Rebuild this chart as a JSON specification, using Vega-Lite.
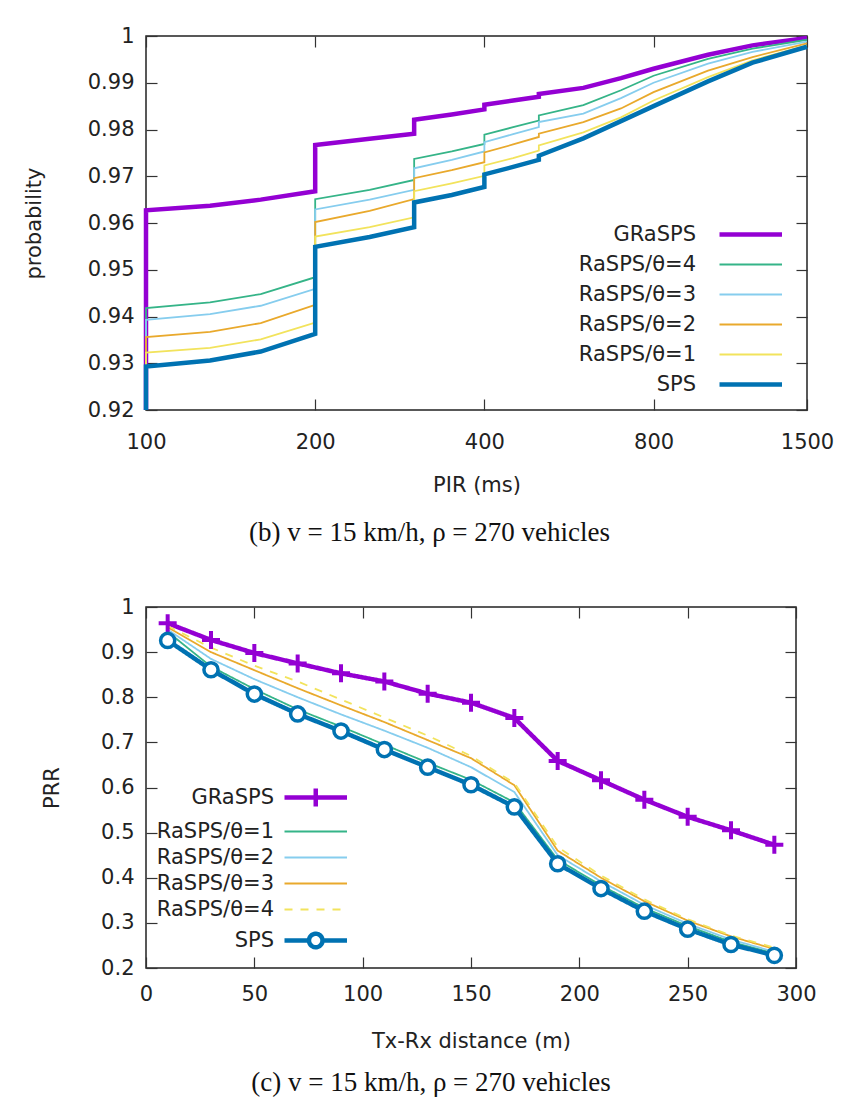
{
  "$schema": "https://vega.github.io/schema/vega-lite/v6.json",
  "padding": {"left": 22, "top": 24, "right": 10, "bottom": 10},
  "background": "white",
  "datasets": {
    "cdf": [
      {"s":"GRaSPS","x":100,"y":0.92,"k":0},{"s":"GRaSPS","x":100,"y":0.9627,"k":1},{"s":"GRaSPS","x":130,"y":0.9637,"k":2},{"s":"GRaSPS","x":160,"y":0.965,"k":3},{"s":"GRaSPS","x":200,"y":0.9668,"k":4},{"s":"GRaSPS","x":200,"y":0.9767,"k":5},{"s":"GRaSPS","x":250,"y":0.978,"k":6},{"s":"GRaSPS","x":300,"y":0.9791,"k":7},{"s":"GRaSPS","x":300,"y":0.9821,"k":8},{"s":"GRaSPS","x":350,"y":0.9832,"k":9},{"s":"GRaSPS","x":400,"y":0.9843,"k":10},{"s":"GRaSPS","x":400,"y":0.9853,"k":11},{"s":"GRaSPS","x":450,"y":0.9862,"k":12},{"s":"GRaSPS","x":500,"y":0.987,"k":13},{"s":"GRaSPS","x":500,"y":0.9876,"k":14},{"s":"GRaSPS","x":600,"y":0.9889,"k":15},{"s":"GRaSPS","x":700,"y":0.991,"k":16},{"s":"GRaSPS","x":800,"y":0.993,"k":17},{"s":"GRaSPS","x":1000,"y":0.996,"k":18},{"s":"GRaSPS","x":1200,"y":0.998,"k":19},{"s":"GRaSPS","x":1500,"y":0.9996,"k":20},
      {"s":"RaSPS/θ=4","x":100,"y":0.92,"k":0},{"s":"RaSPS/θ=4","x":100,"y":0.9418,"k":1},{"s":"RaSPS/θ=4","x":130,"y":0.943,"k":2},{"s":"RaSPS/θ=4","x":160,"y":0.9448,"k":3},{"s":"RaSPS/θ=4","x":200,"y":0.9484,"k":4},{"s":"RaSPS/θ=4","x":200,"y":0.9651,"k":5},{"s":"RaSPS/θ=4","x":250,"y":0.9671,"k":6},{"s":"RaSPS/θ=4","x":300,"y":0.9692,"k":7},{"s":"RaSPS/θ=4","x":300,"y":0.9737,"k":8},{"s":"RaSPS/θ=4","x":350,"y":0.9753,"k":9},{"s":"RaSPS/θ=4","x":400,"y":0.9769,"k":10},{"s":"RaSPS/θ=4","x":400,"y":0.9789,"k":11},{"s":"RaSPS/θ=4","x":450,"y":0.9805,"k":12},{"s":"RaSPS/θ=4","x":500,"y":0.9819,"k":13},{"s":"RaSPS/θ=4","x":500,"y":0.983,"k":14},{"s":"RaSPS/θ=4","x":600,"y":0.9852,"k":15},{"s":"RaSPS/θ=4","x":700,"y":0.9884,"k":16},{"s":"RaSPS/θ=4","x":800,"y":0.9915,"k":17},{"s":"RaSPS/θ=4","x":1000,"y":0.9951,"k":18},{"s":"RaSPS/θ=4","x":1200,"y":0.9973,"k":19},{"s":"RaSPS/θ=4","x":1500,"y":0.9992,"k":20},
      {"s":"RaSPS/θ=3","x":100,"y":0.92,"k":0},{"s":"RaSPS/θ=3","x":100,"y":0.9393,"k":1},{"s":"RaSPS/θ=3","x":130,"y":0.9405,"k":2},{"s":"RaSPS/θ=3","x":160,"y":0.9423,"k":3},{"s":"RaSPS/θ=3","x":200,"y":0.9459,"k":4},{"s":"RaSPS/θ=3","x":200,"y":0.9629,"k":5},{"s":"RaSPS/θ=3","x":250,"y":0.965,"k":6},{"s":"RaSPS/θ=3","x":300,"y":0.9671,"k":7},{"s":"RaSPS/θ=3","x":300,"y":0.9717,"k":8},{"s":"RaSPS/θ=3","x":350,"y":0.9735,"k":9},{"s":"RaSPS/θ=3","x":400,"y":0.9753,"k":10},{"s":"RaSPS/θ=3","x":400,"y":0.9773,"k":11},{"s":"RaSPS/θ=3","x":450,"y":0.979,"k":12},{"s":"RaSPS/θ=3","x":500,"y":0.9805,"k":13},{"s":"RaSPS/θ=3","x":500,"y":0.9816,"k":14},{"s":"RaSPS/θ=3","x":600,"y":0.9834,"k":15},{"s":"RaSPS/θ=3","x":700,"y":0.9867,"k":16},{"s":"RaSPS/θ=3","x":800,"y":0.99,"k":17},{"s":"RaSPS/θ=3","x":1000,"y":0.9941,"k":18},{"s":"RaSPS/θ=3","x":1200,"y":0.9966,"k":19},{"s":"RaSPS/θ=3","x":1500,"y":0.9988,"k":20},
      {"s":"RaSPS/θ=2","x":100,"y":0.92,"k":0},{"s":"RaSPS/θ=2","x":100,"y":0.9356,"k":1},{"s":"RaSPS/θ=2","x":130,"y":0.9367,"k":2},{"s":"RaSPS/θ=2","x":160,"y":0.9386,"k":3},{"s":"RaSPS/θ=2","x":200,"y":0.9425,"k":4},{"s":"RaSPS/θ=2","x":200,"y":0.9602,"k":5},{"s":"RaSPS/θ=2","x":250,"y":0.9626,"k":6},{"s":"RaSPS/θ=2","x":300,"y":0.9651,"k":7},{"s":"RaSPS/θ=2","x":300,"y":0.9696,"k":8},{"s":"RaSPS/θ=2","x":350,"y":0.9713,"k":9},{"s":"RaSPS/θ=2","x":400,"y":0.973,"k":10},{"s":"RaSPS/θ=2","x":400,"y":0.9751,"k":11},{"s":"RaSPS/θ=2","x":450,"y":0.9768,"k":12},{"s":"RaSPS/θ=2","x":500,"y":0.9784,"k":13},{"s":"RaSPS/θ=2","x":500,"y":0.9791,"k":14},{"s":"RaSPS/θ=2","x":600,"y":0.9816,"k":15},{"s":"RaSPS/θ=2","x":700,"y":0.9845,"k":16},{"s":"RaSPS/θ=2","x":800,"y":0.988,"k":17},{"s":"RaSPS/θ=2","x":1000,"y":0.9926,"k":18},{"s":"RaSPS/θ=2","x":1200,"y":0.9955,"k":19},{"s":"RaSPS/θ=2","x":1500,"y":0.9984,"k":20},
      {"s":"RaSPS/θ=1","x":100,"y":0.92,"k":0},{"s":"RaSPS/θ=1","x":100,"y":0.9323,"k":1},{"s":"RaSPS/θ=1","x":130,"y":0.9333,"k":2},{"s":"RaSPS/θ=1","x":160,"y":0.9351,"k":3},{"s":"RaSPS/θ=1","x":200,"y":0.9387,"k":4},{"s":"RaSPS/θ=1","x":200,"y":0.9571,"k":5},{"s":"RaSPS/θ=1","x":250,"y":0.9591,"k":6},{"s":"RaSPS/θ=1","x":300,"y":0.9612,"k":7},{"s":"RaSPS/θ=1","x":300,"y":0.9668,"k":8},{"s":"RaSPS/θ=1","x":350,"y":0.9685,"k":9},{"s":"RaSPS/θ=1","x":400,"y":0.9701,"k":10},{"s":"RaSPS/θ=1","x":400,"y":0.9723,"k":11},{"s":"RaSPS/θ=1","x":450,"y":0.9739,"k":12},{"s":"RaSPS/θ=1","x":500,"y":0.9755,"k":13},{"s":"RaSPS/θ=1","x":500,"y":0.9766,"k":14},{"s":"RaSPS/θ=1","x":600,"y":0.9794,"k":15},{"s":"RaSPS/θ=1","x":700,"y":0.9826,"k":16},{"s":"RaSPS/θ=1","x":800,"y":0.9862,"k":17},{"s":"RaSPS/θ=1","x":1000,"y":0.9912,"k":18},{"s":"RaSPS/θ=1","x":1200,"y":0.9948,"k":19},{"s":"RaSPS/θ=1","x":1500,"y":0.998,"k":20},
      {"s":"SPS","x":100,"y":0.92,"k":0},{"s":"SPS","x":100,"y":0.9293,"k":1},{"s":"SPS","x":130,"y":0.9306,"k":2},{"s":"SPS","x":160,"y":0.9325,"k":3},{"s":"SPS","x":200,"y":0.9363,"k":4},{"s":"SPS","x":200,"y":0.9549,"k":5},{"s":"SPS","x":250,"y":0.957,"k":6},{"s":"SPS","x":300,"y":0.9591,"k":7},{"s":"SPS","x":300,"y":0.9644,"k":8},{"s":"SPS","x":350,"y":0.966,"k":9},{"s":"SPS","x":400,"y":0.9677,"k":10},{"s":"SPS","x":400,"y":0.9704,"k":11},{"s":"SPS","x":450,"y":0.972,"k":12},{"s":"SPS","x":500,"y":0.9735,"k":13},{"s":"SPS","x":500,"y":0.9744,"k":14},{"s":"SPS","x":600,"y":0.9781,"k":15},{"s":"SPS","x":700,"y":0.9818,"k":16},{"s":"SPS","x":800,"y":0.985,"k":17},{"s":"SPS","x":1000,"y":0.9903,"k":18},{"s":"SPS","x":1200,"y":0.9943,"k":19},{"s":"SPS","x":1500,"y":0.9977,"k":20}
    ],
    "prr": [
      {"s":"GRaSPS","d":10,"v":0.964},{"s":"GRaSPS","d":30,"v":0.927},{"s":"GRaSPS","d":50,"v":0.898},{"s":"GRaSPS","d":70,"v":0.875},{"s":"GRaSPS","d":90,"v":0.853},{"s":"GRaSPS","d":110,"v":0.835},{"s":"GRaSPS","d":130,"v":0.808},{"s":"GRaSPS","d":150,"v":0.788},{"s":"GRaSPS","d":170,"v":0.754},{"s":"GRaSPS","d":190,"v":0.659},{"s":"GRaSPS","d":210,"v":0.616},{"s":"GRaSPS","d":230,"v":0.573},{"s":"GRaSPS","d":250,"v":0.535},{"s":"GRaSPS","d":270,"v":0.505},{"s":"GRaSPS","d":290,"v":0.473},
      {"s":"RaSPS/θ=1","d":10,"v":0.945},{"s":"RaSPS/θ=1","d":30,"v":0.868},{"s":"RaSPS/θ=1","d":50,"v":0.818},{"s":"RaSPS/θ=1","d":70,"v":0.773},{"s":"RaSPS/θ=1","d":90,"v":0.735},{"s":"RaSPS/θ=1","d":110,"v":0.695},{"s":"RaSPS/θ=1","d":130,"v":0.655},{"s":"RaSPS/θ=1","d":150,"v":0.617},{"s":"RaSPS/θ=1","d":170,"v":0.567},{"s":"RaSPS/θ=1","d":190,"v":0.44},{"s":"RaSPS/θ=1","d":210,"v":0.383},{"s":"RaSPS/θ=1","d":230,"v":0.333},{"s":"RaSPS/θ=1","d":250,"v":0.293},{"s":"RaSPS/θ=1","d":270,"v":0.258},{"s":"RaSPS/θ=1","d":290,"v":0.233},
      {"s":"RaSPS/θ=2","d":10,"v":0.95},{"s":"RaSPS/θ=2","d":30,"v":0.885},{"s":"RaSPS/θ=2","d":50,"v":0.84},{"s":"RaSPS/θ=2","d":70,"v":0.8},{"s":"RaSPS/θ=2","d":90,"v":0.762},{"s":"RaSPS/θ=2","d":110,"v":0.726},{"s":"RaSPS/θ=2","d":130,"v":0.688},{"s":"RaSPS/θ=2","d":150,"v":0.645},{"s":"RaSPS/θ=2","d":170,"v":0.59},{"s":"RaSPS/θ=2","d":190,"v":0.45},{"s":"RaSPS/θ=2","d":210,"v":0.392},{"s":"RaSPS/θ=2","d":230,"v":0.34},{"s":"RaSPS/θ=2","d":250,"v":0.298},{"s":"RaSPS/θ=2","d":270,"v":0.263},{"s":"RaSPS/θ=2","d":290,"v":0.236},
      {"s":"RaSPS/θ=3","d":10,"v":0.955},{"s":"RaSPS/θ=3","d":30,"v":0.9},{"s":"RaSPS/θ=3","d":50,"v":0.86},{"s":"RaSPS/θ=3","d":70,"v":0.82},{"s":"RaSPS/θ=3","d":90,"v":0.782},{"s":"RaSPS/θ=3","d":110,"v":0.745},{"s":"RaSPS/θ=3","d":130,"v":0.705},{"s":"RaSPS/θ=3","d":150,"v":0.665},{"s":"RaSPS/θ=3","d":170,"v":0.605},{"s":"RaSPS/θ=3","d":190,"v":0.46},{"s":"RaSPS/θ=3","d":210,"v":0.4},{"s":"RaSPS/θ=3","d":230,"v":0.348},{"s":"RaSPS/θ=3","d":250,"v":0.305},{"s":"RaSPS/θ=3","d":270,"v":0.27},{"s":"RaSPS/θ=3","d":290,"v":0.242},
      {"s":"RaSPS/θ=4","d":10,"v":0.958},{"s":"RaSPS/θ=4","d":30,"v":0.91},{"s":"RaSPS/θ=4","d":50,"v":0.87},{"s":"RaSPS/θ=4","d":70,"v":0.835},{"s":"RaSPS/θ=4","d":90,"v":0.795},{"s":"RaSPS/θ=4","d":110,"v":0.755},{"s":"RaSPS/θ=4","d":130,"v":0.715},{"s":"RaSPS/θ=4","d":150,"v":0.67},{"s":"RaSPS/θ=4","d":170,"v":0.61},{"s":"RaSPS/θ=4","d":190,"v":0.468},{"s":"RaSPS/θ=4","d":210,"v":0.405},{"s":"RaSPS/θ=4","d":230,"v":0.352},{"s":"RaSPS/θ=4","d":250,"v":0.308},{"s":"RaSPS/θ=4","d":270,"v":0.272},{"s":"RaSPS/θ=4","d":290,"v":0.245},
      {"s":"SPS","d":10,"v":0.926},{"s":"SPS","d":30,"v":0.861},{"s":"SPS","d":50,"v":0.807},{"s":"SPS","d":70,"v":0.763},{"s":"SPS","d":90,"v":0.725},{"s":"SPS","d":110,"v":0.684},{"s":"SPS","d":130,"v":0.645},{"s":"SPS","d":150,"v":0.606},{"s":"SPS","d":170,"v":0.557},{"s":"SPS","d":190,"v":0.431},{"s":"SPS","d":210,"v":0.376},{"s":"SPS","d":230,"v":0.326},{"s":"SPS","d":250,"v":0.286},{"s":"SPS","d":270,"v":0.252},{"s":"SPS","d":290,"v":0.228}
    ]
  },
  "spacing": 48,
  "resolve": {
    "scale": {"x": "independent", "y": "independent", "color": "independent", "strokeWidth": "independent", "strokeDash": "independent", "shape": "independent"},
    "legend": {"color": "independent", "strokeWidth": "independent", "strokeDash": "independent", "shape": "independent"}
  },
  "vconcat": [
    {
      "width": 661,
      "height": 374,
      "data": {"name": "cdf"},
      "title": {"text": "(b)  v = 15 km/h, ρ = 270 vehicles", "orient": "bottom", "anchor": "middle", "font": "Liberation Serif", "fontSize": 27, "fontWeight": "normal", "color": "#111", "dx": -47, "offset": 25},
      "resolve": {"axis": {"x": "independent", "y": "independent"}},
      "layer": [
        {
          "mark": {"type": "line", "strokeCap": "butt"},
          "encoding": {
            "x": {"field": "x", "type": "quantitative", "scale": {"type": "log", "domain": [100, 1500], "nice": false}, "axis": {"orient": "bottom", "title": "PIR (ms)", "values": [100, 200, 400, 800, 1500], "format": "d", "labelPadding": 32, "titlePadding": 22}},
            "y": {"field": "y", "type": "quantitative", "scale": {"domain": [0.92, 1], "nice": false, "zero": false}, "axis": {"orient": "left", "title": "probability", "values": [0.92, 0.93, 0.94, 0.95, 0.96, 0.97, 0.98, 0.99, 1], "format": ".2~f", "labelPadding": 23, "titlePadding": 43}},
            "order": {"field": "k", "type": "quantitative"},
            "color": {"field": "s", "type": "nominal", "scale": {"domain": ["GRaSPS", "RaSPS/θ=4", "RaSPS/θ=3", "RaSPS/θ=2", "RaSPS/θ=1", "SPS"], "range": ["#9400d3", "#35b488", "#86cdee", "#e9a92c", "#f2e35c", "#0072b2"]},
              "legend": {"orient": "none", "legendX": 563, "legendY": 188, "title": null, "labelAlign": "right", "labelOffset": -34, "rowPadding": 8, "symbolType": "M0,0H12.5", "symbolSize": 100, "labelFontSize": 21, "labelLimit": 0, "padding": 0}},
            "strokeWidth": {"field": "s", "type": "nominal", "scale": {"type": "ordinal", "domain": ["GRaSPS", "RaSPS/θ=4", "RaSPS/θ=3", "RaSPS/θ=2", "RaSPS/θ=1", "SPS"], "range": [4.5, 1.8, 1.8, 1.8, 1.8, 4.5]},
              "legend": {"orient": "none", "legendX": 563, "legendY": 188, "title": null, "labelAlign": "right", "labelOffset": -34, "rowPadding": 8, "symbolType": "M0,0H12.5", "symbolSize": 100, "labelFontSize": 21, "labelLimit": 0, "padding": 0}}
          }
        },
        {
          "mark": {"type": "point", "opacity": 0},
          "encoding": {
            "x": {"field": "x", "type": "quantitative", "axis": {"orient": "top", "labels": false, "title": null, "values": [100, 200, 400, 800, 1500]}},
            "y": {"field": "y", "type": "quantitative", "axis": {"orient": "right", "labels": false, "title": null, "values": [0.92, 0.93, 0.94, 0.95, 0.96, 0.97, 0.98, 0.99, 1]}}
          }
        }
      ]
    },
    {
      "width": 650,
      "height": 361,
      "data": {"name": "prr"},
      "title": {"text": "(c)  v = 15 km/h, ρ = 270 vehicles", "orient": "bottom", "anchor": "middle", "font": "Liberation Serif", "fontSize": 27, "fontWeight": "normal", "color": "#111", "dx": -40, "offset": 19},
      "resolve": {
        "axis": {"x": "independent", "y": "independent"},
        "scale": {"color": "independent", "strokeWidth": "independent", "strokeDash": "independent", "shape": "independent"}
      },
      "layer": [
        {
          "mark": {"type": "line", "strokeCap": "butt"},
          "encoding": {
            "x": {"field": "d", "type": "quantitative", "scale": {"domain": [0, 300], "nice": false}, "axis": {"orient": "bottom", "title": "Tx-Rx distance (m)", "values": [0, 50, 100, 150, 200, 250, 300], "format": "d", "labelPadding": 26, "titlePadding": 26}},
            "y": {"field": "v", "type": "quantitative", "scale": {"domain": [0.2, 1], "nice": false, "zero": false}, "axis": {"orient": "left", "title": "PRR", "values": [0.2, 0.3, 0.4, 0.5, 0.6, 0.7, 0.8, 0.9, 1], "format": ".1~f", "labelPadding": 23, "titlePadding": 38}},
            "color": {"field": "s", "type": "nominal", "scale": {"domain": ["GRaSPS", "RaSPS/θ=1", "RaSPS/θ=2", "RaSPS/θ=3", "RaSPS/θ=4", "SPS"], "range": ["#9400d3", "#35b488", "#86cdee", "#e9a92c", "#f2e35c", "#0072b2"]}, "legend": null},
            "strokeWidth": {"field": "s", "type": "nominal", "scale": {"type": "ordinal", "domain": ["GRaSPS", "RaSPS/θ=1", "RaSPS/θ=2", "RaSPS/θ=3", "RaSPS/θ=4", "SPS"], "range": [4.5, 1.8, 1.8, 1.8, 1.8, 4.5]}, "legend": null},
            "strokeDash": {"field": "s", "type": "nominal", "scale": {"type": "ordinal", "domain": ["GRaSPS", "RaSPS/θ=1", "RaSPS/θ=2", "RaSPS/θ=3", "RaSPS/θ=4", "SPS"], "range": [[1, 0], [1, 0], [1, 0], [1, 0], [8, 8], [1, 0]]}, "legend": null}
          }
        },
        {
          "transform": [{"filter": "datum.s === 'GRaSPS'"}],
          "mark": {"type": "point", "shape": "M-1,0H1M0,-1V1", "size": 324, "filled": false, "color": "#9400d3", "strokeWidth": 4, "opacity": 1},
          "encoding": {
            "x": {"field": "d", "type": "quantitative", "axis": null},
            "y": {"field": "v", "type": "quantitative", "axis": null}
          }
        },
        {
          "transform": [{"filter": "datum.s === 'SPS'"}],
          "mark": {"type": "point", "shape": "circle", "size": 200, "filled": false, "color": "#0072b2", "fill": "white", "fillOpacity": 1, "strokeWidth": 3.5, "opacity": 1},
          "encoding": {
            "x": {"field": "d", "type": "quantitative", "axis": null},
            "y": {"field": "v", "type": "quantitative", "axis": null}
          }
        },
        {
          "transform": [{"filter": "false"}],
          "mark": {"type": "point", "filled": false, "opacity": 1},
          "encoding": {
            "x": {"field": "d", "type": "quantitative", "axis": null},
            "y": {"field": "v", "type": "quantitative", "axis": null},
            "color": {"field": "s", "type": "nominal", "scale": {"domain": ["GRaSPS", "RaSPS/θ=1", "RaSPS/θ=2", "RaSPS/θ=3", "RaSPS/θ=4", "SPS"], "range": ["#9400d3", "#35b488", "#86cdee", "#e9a92c", "#f2e35c", "#0072b2"]},
              "legend": {"orient": "none", "legendX": 128, "legendY": 180, "title": null, "labelAlign": "right", "labelOffset": -21, "rowPadding": 4, "symbolSize": 100, "symbolOpacity": 1, "labelFontSize": 21, "labelLimit": 0, "padding": 0}},
            "shape": {"field": "s", "type": "nominal", "scale": {"domain": ["GRaSPS", "RaSPS/θ=1", "RaSPS/θ=2", "RaSPS/θ=3", "RaSPS/θ=4", "SPS"], "range": ["M0,0H12.5M6.25,-1.8V1.8", "M0,0H12.5", "M0,0H12.5", "M0,0H12.5", "M0,0H12.5", "M0,0H4.9M7.6,0H12.5M7.6,0A1.35,1.35,0,1,1,4.9,0A1.35,1.35,0,1,1,7.6,0"]},
              "legend": {"orient": "none", "legendX": 128, "legendY": 180, "title": null, "labelAlign": "right", "labelOffset": -21, "rowPadding": 4, "symbolSize": 100, "symbolOpacity": 1, "labelFontSize": 21, "labelLimit": 0, "padding": 0}},
            "strokeWidth": {"field": "s", "type": "nominal", "scale": {"type": "ordinal", "domain": ["GRaSPS", "RaSPS/θ=1", "RaSPS/θ=2", "RaSPS/θ=3", "RaSPS/θ=4", "SPS"], "range": [4.5, 1.8, 1.8, 1.8, 1.8, 4.5]},
              "legend": {"orient": "none", "legendX": 128, "legendY": 180, "title": null, "labelAlign": "right", "labelOffset": -21, "rowPadding": 4, "symbolSize": 100, "symbolOpacity": 1, "labelFontSize": 21, "labelLimit": 0, "padding": 0}},
            "strokeDash": {"field": "s", "type": "nominal", "scale": {"type": "ordinal", "domain": ["GRaSPS", "RaSPS/θ=1", "RaSPS/θ=2", "RaSPS/θ=3", "RaSPS/θ=4", "SPS"], "range": [[1, 0], [1, 0], [1, 0], [1, 0], [8, 8], [1, 0]]},
              "legend": {"orient": "none", "legendX": 128, "legendY": 180, "title": null, "labelAlign": "right", "labelOffset": -21, "rowPadding": 4, "symbolSize": 100, "symbolOpacity": 1, "labelFontSize": 21, "labelLimit": 0, "padding": 0}}
          }
        },
        {
          "mark": {"type": "point", "opacity": 0},
          "encoding": {
            "x": {"field": "d", "type": "quantitative", "axis": {"orient": "top", "labels": false, "title": null, "values": [0, 50, 100, 150, 200, 250, 300]}},
            "y": {"field": "v", "type": "quantitative", "axis": {"orient": "right", "labels": false, "title": null, "values": [0.2, 0.3, 0.4, 0.5, 0.6, 0.7, 0.8, 0.9, 1]}}
          }
        }
      ]
    }
  ],
  "config": {
    "font": "DejaVu Sans",
    "view": {"stroke": "#222", "strokeWidth": 1.5},
    "axis": {"grid": false, "domain": false, "tickColor": "#333", "tickSize": -11, "tickWidth": 1.2, "labelFontSize": 21, "labelColor": "#222", "labelFont": "DejaVu Sans", "labelFlush": false, "labelOverlap": false, "titleFontSize": 21, "titleFontWeight": "normal", "titleColor": "#222", "titleFont": "DejaVu Sans"},
    "legend": {"labelFont": "DejaVu Sans", "labelColor": "#222", "labelFontSize": 21, "labelLimit": 0}
  }
}
